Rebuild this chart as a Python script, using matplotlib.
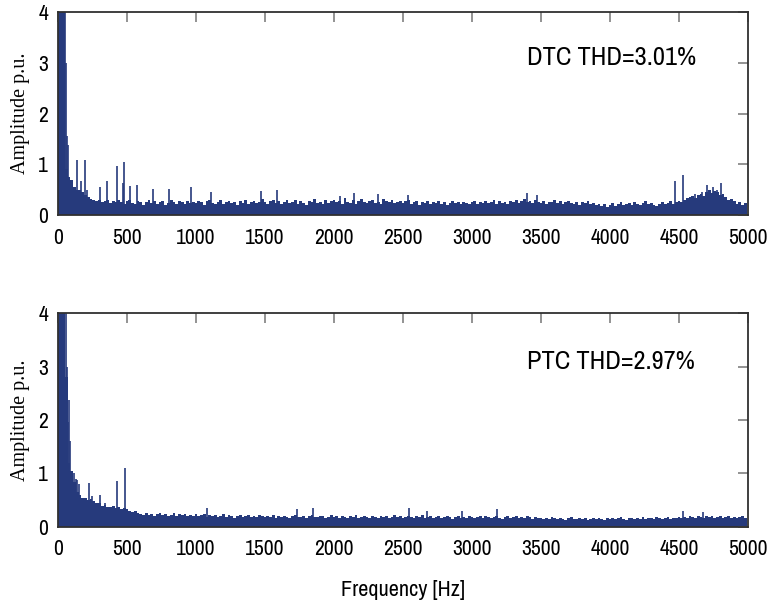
import numpy as np
import matplotlib
matplotlib.use('Agg')
import matplotlib.pyplot as plt
from matplotlib import font_manager

# floor of each spectrum, 20 Hz bins from 0 to 4980 Hz
bin_hz = 20
dtc_floor = [
    4.5, 4.5, 4.5, 0.9, 0.75, 0.7, 0.55, 0.5, 0.5, 0.45, 0.4, 0.35, 0.32, 0.3, 0.28, 0.3, 0.25, 0.27, 0.3, 0.24, 0.28, 0.25, 0.3, 0.26, 0.22,
    0.27, 0.3, 0.24, 0.22, 0.28, 0.26, 0.2, 0.25, 0.3, 0.23, 0.27, 0.22, 0.25, 0.28, 0.2, 0.24, 0.3, 0.26, 0.22, 0.27, 0.25, 0.21, 0.28, 0.24, 0.26,
    0.23, 0.28, 0.25, 0.2, 0.27, 0.3, 0.24, 0.22, 0.26, 0.29, 0.21, 0.25, 0.28, 0.23, 0.26, 0.2, 0.27, 0.24, 0.3, 0.22, 0.25, 0.28, 0.23, 0.26, 0.32,
    0.25, 0.22, 0.28, 0.3, 0.24, 0.27, 0.21, 0.26, 0.29, 0.23, 0.25, 0.3, 0.22, 0.27, 0.24, 0.2, 0.28, 0.25, 0.31, 0.23, 0.26, 0.22, 0.29, 0.24, 0.27,
    0.3, 0.25, 0.28, 0.22, 0.33, 0.26, 0.24, 0.29, 0.21, 0.27, 0.32, 0.25, 0.23, 0.28, 0.3, 0.24, 0.26, 0.22, 0.31, 0.27, 0.25, 0.29, 0.23, 0.26, 0.28,
    0.24, 0.27, 0.3, 0.22, 0.25, 0.28, 0.2, 0.26, 0.23, 0.27, 0.21, 0.25, 0.24, 0.28, 0.22, 0.26, 0.2, 0.24, 0.27, 0.23, 0.25, 0.21, 0.26, 0.24, 0.22,
    0.25, 0.27, 0.22, 0.26, 0.24, 0.28, 0.23, 0.25, 0.3, 0.22, 0.27, 0.24, 0.26, 0.21, 0.28, 0.25, 0.3, 0.24, 0.27, 0.32, 0.25, 0.28, 0.23, 0.3, 0.26,
    0.24, 0.28, 0.22, 0.26, 0.25, 0.29, 0.23, 0.27, 0.21, 0.25, 0.28, 0.24, 0.22, 0.26, 0.2, 0.25, 0.23, 0.27, 0.21, 0.24, 0.2, 0.22, 0.18, 0.21, 0.17,
    0.2, 0.23, 0.18, 0.22, 0.25, 0.19, 0.21, 0.24, 0.2, 0.26, 0.22, 0.19, 0.23, 0.27, 0.21, 0.24, 0.2, 0.18, 0.22, 0.25, 0.21, 0.24, 0.28, 0.22, 0.26,
    0.28, 0.25, 0.3, 0.33, 0.35, 0.38, 0.33, 0.4, 0.42, 0.37, 0.45, 0.5, 0.43, 0.48, 0.45, 0.4, 0.42, 0.35, 0.3, 0.32, 0.27, 0.22, 0.25, 0.2, 0.23,
]
ptc_floor = [
    4.5, 4.5, 4.5, 2.8, 1.2, 1.05, 0.85, 0.65, 0.6, 0.55, 0.55, 0.5, 0.52, 0.48, 0.45, 0.44, 0.4, 0.42, 0.38, 0.37, 0.4, 0.35, 0.37, 0.34, 0.36,
    0.33, 0.3, 0.28, 0.29, 0.26, 0.25, 0.22, 0.26, 0.23, 0.25, 0.21, 0.24, 0.27, 0.22, 0.25, 0.2, 0.23, 0.26, 0.21, 0.24, 0.22, 0.25, 0.2, 0.23, 0.21,
    0.24, 0.2, 0.22, 0.25, 0.19, 0.22, 0.2, 0.23, 0.18, 0.21, 0.24, 0.19, 0.22, 0.2, 0.17, 0.21, 0.23, 0.19, 0.2, 0.22, 0.18, 0.21, 0.19, 0.23, 0.2,
    0.18, 0.21, 0.19, 0.22, 0.17, 0.2, 0.18, 0.21, 0.19, 0.16, 0.2, 0.22, 0.18, 0.19, 0.21, 0.17, 0.2, 0.23, 0.19, 0.18, 0.21, 0.2, 0.17, 0.19, 0.22,
    0.18, 0.2, 0.17, 0.21, 0.19, 0.16, 0.2, 0.18, 0.22, 0.17, 0.19, 0.21, 0.18, 0.16, 0.2, 0.19, 0.17, 0.21, 0.18, 0.2, 0.16, 0.19, 0.22, 0.18, 0.2,
    0.17, 0.19, 0.21, 0.18, 0.16, 0.2, 0.19, 0.22, 0.17, 0.18, 0.2, 0.16, 0.19, 0.21, 0.17, 0.18, 0.2, 0.19, 0.15, 0.18, 0.21, 0.17, 0.19, 0.16, 0.2,
    0.18, 0.16, 0.19, 0.2, 0.17, 0.21, 0.18, 0.16, 0.19, 0.2, 0.17, 0.15, 0.18, 0.2, 0.16, 0.19, 0.21, 0.17, 0.18, 0.16, 0.2, 0.18, 0.15, 0.19, 0.17,
    0.16, 0.14, 0.17, 0.15, 0.18, 0.16, 0.14, 0.17, 0.15, 0.13, 0.16, 0.18, 0.15, 0.14, 0.17, 0.15, 0.16, 0.13, 0.15, 0.17, 0.14, 0.16, 0.15, 0.13, 0.16,
    0.15, 0.17, 0.14, 0.16, 0.18, 0.15, 0.13, 0.16, 0.17, 0.14, 0.16, 0.15, 0.18, 0.14, 0.16, 0.17, 0.15, 0.19, 0.16, 0.14, 0.17, 0.18, 0.15, 0.17, 0.16,
    0.18, 0.16, 0.19, 0.17, 0.2, 0.18, 0.16, 0.21, 0.19, 0.17, 0.2, 0.18, 0.21, 0.17, 0.19, 0.2, 0.16, 0.18, 0.21, 0.17, 0.19, 0.16, 0.18, 0.2, 0.17,
]

# individual harmonic spikes (Hz, p.u.)
dtc_spike_f = [50, 56, 62, 75, 135, 165, 193, 210, 302, 357, 425, 469, 481, 524, 572, 688, 802, 966, 1106,
               1471, 1587, 2043, 2145, 2319, 2536, 3399, 3471, 4471, 4529, 4616, 4667, 4703, 4746, 4775, 4804]
dtc_spike_a = [4.5, 3.0, 1.55, 1.38, 1.08, 0.68, 1.08, 0.5, 0.55, 0.67, 0.97, 0.63, 1.05, 0.58, 0.6, 0.51, 0.52, 0.56, 0.45,
               0.47, 0.49, 0.38, 0.43, 0.42, 0.4, 0.43, 0.4, 0.68, 0.79, 0.42, 0.45, 0.6, 0.55, 0.5, 0.63]
ptc_spike_f = [55, 62, 72, 82, 90, 100, 115, 130, 138, 150, 225, 250, 307, 340, 427, 485,
               1080, 1732, 1848, 2545, 2674, 2928, 3181, 4529, 4674]
ptc_spike_a = [4.5, 3.0, 1.97, 2.37, 1.6, 1.05, 1.0, 0.9, 0.88, 0.8, 0.82, 0.58, 0.6, 0.45, 0.86, 1.1,
               0.35, 0.34, 0.35, 0.36, 0.3, 0.3, 0.33, 0.3, 0.28]

labels = ['DTC THD=3.01%', 'PTC THD=2.97%']
xticks = np.arange(0, 5001, 500)
yticks = [0, 1, 2, 3, 4]

bar_color = '#263a7c'

# look for a condensed sans face, the figure uses one
narrow_name = None
for fe in font_manager.fontManager.ttflist:
    if ('Narrow' in fe.name or 'Condensed' in fe.name) and 'Serif' not in fe.name and 'Mono' not in fe.name:
        narrow_name = fe.name
        break
if narrow_name is None:
    for fe in font_manager.fontManager.ttflist:
        if fe.stretch in ('condensed', 'semi-condensed') and 'Serif' not in fe.name and 'Mono' not in fe.name:
            narrow_name = fe.name
            break
narrow = [narrow_name, 'DejaVu Sans'] if narrow_name else ['DejaVu Sans']
stretch = 'condensed'

fig = plt.figure(figsize=(7.68, 6.06), dpi=100)
ax1 = fig.add_axes([0.0755, 0.645, 0.8984, 0.335])
ax2 = fig.add_axes([0.0755, 0.1304, 0.8984, 0.353])

panels = [(ax1, dtc_floor, dtc_spike_f, dtc_spike_a, labels[0]),
          (ax2, ptc_floor, ptc_spike_f, ptc_spike_a, labels[1])]

for ax, floor, sf, sa, lab in panels:
    f = np.arange(len(floor)) * bin_hz
    ax.bar(f, floor, width=bin_hz, color=bar_color, linewidth=0, align='center')
    ax.vlines(sf, 0, sa, color=bar_color, linewidth=1.2)
    ax.set_xlim(0, 5000)
    ax.set_ylim(0, 4)
    ax.set_xticks(xticks)
    ax.set_yticks(yticks)
    ax.tick_params(direction='in', top=True, right=True, bottom=False, left=False,
                   length=7, width=1.2, color='#808080', labelsize=15.5)
    ax.tick_params(axis='x', pad=9)
    ax.tick_params(axis='y', pad=7)
    for t in ax.get_xticklabels() + ax.get_yticklabels():
        t.set_family(narrow)
        t.set_stretch(stretch)
    for s in ax.spines.values():
        s.set_color('#303030')
        s.set_linewidth(1.3)
    ax.set_ylabel('Amplitude p.u.', family='Liberation Serif', fontsize=14.5, labelpad=6)
    ax.text(3400, 3.1, lab, family=narrow, stretch=stretch, fontsize=19, va='center', ha='left')

ax2.set_xlabel('Frequency [Hz]', family=narrow, stretch=stretch, fontsize=16, labelpad=15)

fig.savefig('out.png', dpi=100)
